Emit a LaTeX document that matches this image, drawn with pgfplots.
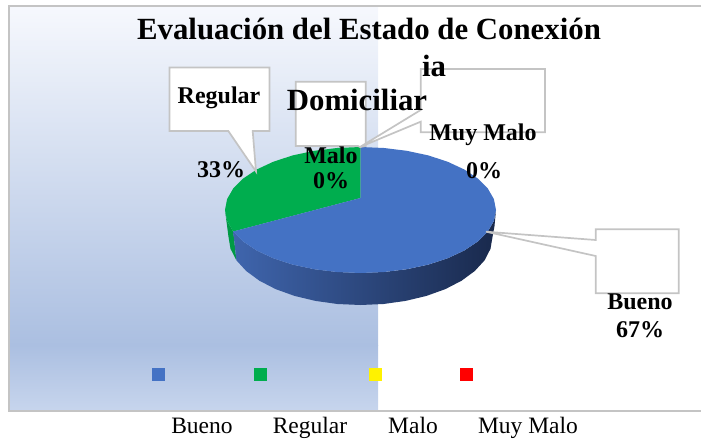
\documentclass[border=0pt]{standalone}
\usepackage{pgfplots}
\pgfplotsset{compat=1.18}
\usepackage{fontspec}
\setmainfont{Liberation Serif}
\definecolor{panelA}{HTML}{F6F8FD}
\definecolor{panelB}{HTML}{ABBFE1}
\definecolor{panelC}{HTML}{C7D5ED}
\definecolor{frameg}{HTML}{C4C4C4}
\definecolor{pieblue}{HTML}{4472C4}
\definecolor{piegreen}{HTML}{00AD4E}
\definecolor{piegreenD}{HTML}{009A45}
\definecolor{sideA}{HTML}{3F65AD}
\definecolor{sideB}{HTML}{273E6E}
\definecolor{sideC}{HTML}{19294C}
\tikzset{tx/.style={inner sep=0pt,text height=0.66em,text depth=0.2em}}
\newcommand{\lab}[3]{\node[tx,font=\fontsize{24}{24}\selectfont\bfseries] at (axis cs:#1,#2) {#3};}
\newcommand{\ttl}[3]{\node[tx,font=\fontsize{30.8}{31}\selectfont\bfseries] at (axis cs:#1,#2) {#3};}
\newcommand{\leg}[3]{\node[tx,font=\fontsize{23.5}{24}\selectfont] at (axis cs:#1,#2) {#3};}
\begin{document}
\begin{tikzpicture}
\begin{axis}[
  hide axis, scale only axis, width=702pt, height=439pt,
  xmin=0, xmax=702, ymin=0, ymax=439, y dir=reverse,
  clip=false, axis line style={draw=none}
]
% page extent
\addplot[draw=none, forget plot] coordinates {(0,0) (702,0) (702,439) (0,439)};
% panel gradient
\addplot[draw=none, shade, top color=panelA, bottom color=panelB] coordinates {(9,7) (378,7) (378,345) (9,345)} -- cycle;
\addplot[draw=none, shade, top color=panelB, bottom color=panelC] coordinates {(9,345) (378,345) (378,411) (9,411)} -- cycle;
% frame
\addplot[draw=frameg, line width=2pt] coordinates {(701,5.5) (9,5.5) (9,411) (701,411)};
% green side
\addplot[draw=none, fill=piegreenD] coordinates {(225,210) (227.1,220.9) (233.2,231.5) (236.4,260.3) (230.5,248.8) (228.5,237)} -- cycle;
% blue side
\addplot[draw=none, left color=sideA, middle color=sideB, right color=sideC, shade] coordinates {
 (233.2,231.5) (243.2,241.5) (256.7,250.5) (273.4,258.3) (292.7,264.6) (314.2,269.2) (337,272) (360.5,273)
 (384,272) (406.8,269.2) (428.3,264.6) (447.6,258.3) (464.3,250.5) (477.8,241.5) (487.8,231.5) (493.9,220.9) (496,210)
 (494.5,226) (492.5,237) (490.5,248.8) (484.6,260.3) (474.8,271) (461.6,280.7) (445.4,289.1) (426.5,295.9) (405.6,300.9) (383.5,304) (360.5,305)
 (337.5,304) (315.4,300.9) (294.5,295.9) (275.6,289.1) (259.4,280.7) (246.2,271) (236.4,260.3)} -- cycle;
% green top
\addplot[draw=none, fill=piegreen] coordinates {
 (360.5,198) (233.2,231.5) (227.1,220.9) (225,210) (227.1,199.1) (233.2,188.5) (243.2,178.5) (256.7,169.5) (273.4,161.7)
 (292.7,155.4) (314.2,150.8) (337,148) (360.5,147)} -- cycle;
% blue top
\addplot[draw=none, fill=pieblue] coordinates {
 (360.5,198) (360.5,147) (384,148) (406.8,150.8) (428.3,155.4) (447.6,161.7) (464.3,169.5) (477.8,178.5) (487.8,188.5)
 (493.9,199.1) (496,210) (493.9,220.9) (487.8,231.5) (477.8,241.5) (464.3,250.5) (447.6,258.3) (428.3,264.6) (406.8,269.2)
 (384,272) (360.5,273) (337,272) (314.2,269.2) (292.7,264.6) (273.4,258.3) (256.7,250.5) (243.2,241.5) (233.2,231.5)} -- cycle;
% callouts
\addplot[draw=frameg, fill=white, line width=1.7pt] coordinates {(169.5,67.5) (269.5,67.5) (269.5,131) (252.7,131) (256,171.5) (228.3,131) (169.5,131)} -- cycle;
\addplot[draw=frameg, fill=white, line width=1.7pt] coordinates {(295.7,81.7) (365.7,81.7) (365.7,146) (360,147) (358,146) (295.7,146)} -- cycle;
\addplot[draw=frameg, fill=white, line width=1.7pt] coordinates {(420.7,69) (545,69) (545,132.3) (420.7,132.3) (420.7,121.7) (360,147) (420.7,110)} -- cycle;
\addplot[draw=frameg, fill=white, line width=1.7pt] coordinates {(595.7,229.3) (678.7,229.3) (678.7,293.3) (595.7,293.3) (595.7,256) (486,231.7) (595.7,240)} -- cycle;
% legend keys
\addplot[only marks, mark=square*, mark size=6pt, pieblue, mark options={draw=pieblue, fill=pieblue, line width=0pt}] coordinates {(158,374)};
\addplot[only marks, mark=square*, mark size=6pt, piegreen, mark options={draw=piegreen, fill=piegreen, line width=0pt}] coordinates {(260,374)};
\addplot[only marks, mark=square*, mark size=6pt, yellow, mark options={draw=yellow, fill=yellow, line width=0pt}] coordinates {(375.5,374)};
\addplot[only marks, mark=square*, mark size=6pt, red, mark options={draw=red, fill=red, line width=0pt}] coordinates {(466,374)};
% texts
\ttl{369}{37}{Evaluación del Estado de Conexión}
\ttl{434}{74}{ia}
\ttl{357}{108}{Domiciliar}
\lab{219}{101}{Regular}
\lab{221}{175}{33\%}
\lab{331}{161}{Malo}
\lab{331}{186}{0\%}
\lab{483}{138}{Muy Malo}
\lab{484}{176}{0\%}
\lab{640}{307}{Bueno}
\lab{640}{335}{67\%}
\leg{202}{431}{Bueno}
\leg{310}{431}{Regular}
\leg{413}{431}{Malo}
\leg{528}{431}{Muy Malo}
\end{axis}
\end{tikzpicture}
\end{document}
